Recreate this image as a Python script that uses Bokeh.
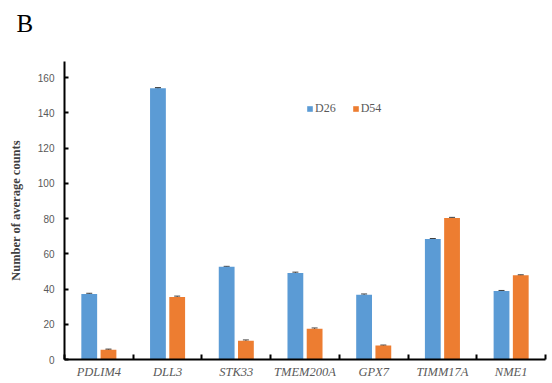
from bokeh.plotting import figure
from bokeh.models import (ColumnDataSource, FixedTicker, Range1d, Whisker, Legend,
                          LegendItem, Title)
from bokeh.embed import file_html
from bokeh.resources import INLINE

genes = ["PDLIM4", "DLL3", "STK33", "TMEM200A", "GPX7", "TIMM17A", "NME1"]
d26 = [37.2, 154.0, 52.6, 49.1, 36.8, 68.4, 38.9]
d54 = [5.6, 35.5, 10.6, 17.4, 7.9, 80.3, 47.8]
d26_err = [0.4, 0.4, 0.3, 0.5, 0.4, 0.3, 0.3]
d54_err = [0.3, 0.5, 0.5, 0.5, 0.3, 0.4, 0.3]
y_ticks = [0, 20, 40, 60, 80, 100, 120, 140, 160]

BLUE = "#5B9BD5"
ORANGE = "#ED7D31"
GRAY = "#595959"

n = len(genes)
centers = [i + 0.5 for i in range(n)]
bounds = list(range(n + 1))
off = 0.14
bw = 0.23

src = ColumnDataSource(data=dict(
    xb=[c - off for c in centers], xo=[c + off for c in centers],
    d26=d26, d54=d54,
    d26_lo=[v - e for v, e in zip(d26, d26_err)], d26_hi=[v + e for v, e in zip(d26, d26_err)],
    d54_lo=[v - e for v, e in zip(d54, d54_err)], d54_hi=[v + e for v, e in zip(d54, d54_err)],
))

p = figure(width=552, height=383, output_backend="svg", toolbar_location=None,
           x_range=Range1d(0, n), y_range=Range1d(0, 169.2),
           min_border_left=64, min_border_right=7, min_border_top=61, min_border_bottom=24,
           title=Title(text="B", align="left", offset=-48, standoff=0,
                       text_font="Liberation Serif", text_font_size="25px",
                       text_font_style="normal", text_color="black"))
# spacer between the panel letter and the plot area
p.add_layout(Title(text=" ", text_font_size="1px", standoff=22), "above")
p.outline_line_color = None
p.grid.grid_line_color = None
p.background_fill_color = "white"
p.border_fill_color = "white"

rb = p.vbar(x="xb", top="d26", width=bw, source=src, fill_color=BLUE, line_color=None)
ro = p.vbar(x="xo", top="d54", width=bw, source=src, fill_color=ORANGE, line_color=None)

for lo, hi, xx in (("d26_lo", "d26_hi", "xb"), ("d54_lo", "d54_hi", "xo")):
    w = Whisker(base=xx, lower=lo, upper=hi, source=src, line_color="#404040", line_width=1)
    w.upper_head.size = 6
    w.lower_head.size = 6
    w.upper_head.line_color = "#404040"
    w.lower_head.line_color = "#404040"
    p.add_layout(w)

# x axis
xa = p.xaxis[0]
xa.ticker = FixedTicker(ticks=centers, minor_ticks=bounds)
xa.major_label_overrides = {c: g for c, g in zip(centers, genes)}
xa.major_tick_line_color = None
xa.major_tick_in = 0
xa.major_tick_out = 0
xa.minor_tick_in = 5
xa.minor_tick_out = 0
xa.minor_tick_line_color = "black"
xa.minor_tick_line_width = 2
xa.axis_line_color = "black"
xa.axis_line_width = 2
xa.major_label_text_font = "Liberation Serif"
xa.major_label_text_font_style = "italic"
xa.major_label_text_font_size = "12.5px"
xa.major_label_text_color = GRAY
xa.major_label_standoff = 5

# y axis
ya = p.yaxis[0]
ya.ticker = FixedTicker(ticks=y_ticks, minor_ticks=[])
ya.major_tick_in = 4
ya.major_tick_out = 0
ya.major_tick_line_color = "black"
ya.major_tick_line_width = 2
ya.axis_line_color = "black"
ya.axis_line_width = 2
ya.major_label_text_font = "Liberation Sans"
ya.major_label_text_font_size = "10px"
ya.major_label_text_color = GRAY
ya.major_label_standoff = 10
ya.axis_label = "Number of average counts"
ya.axis_label_text_font = "Liberation Serif"
ya.axis_label_text_font_style = "bold"
ya.axis_label_text_font_size = "12.5px"
ya.axis_label_text_color = "#404040"
ya.axis_label_standoff = 12

legend = Legend(items=[LegendItem(label="D26", renderers=[rb]),
                       LegendItem(label="D54", renderers=[ro])],
                orientation="horizontal", location=(242, 243),
                glyph_width=7, glyph_height=7, label_standoff=2, spacing=16,
                padding=0, margin=0, border_line_color=None,
                background_fill_alpha=0,
                label_text_font="Liberation Serif", label_text_font_size="12px",
                label_text_color=GRAY, label_height=12)
p.add_layout(legend)

open("out.html", "w").write(file_html(p, INLINE))
